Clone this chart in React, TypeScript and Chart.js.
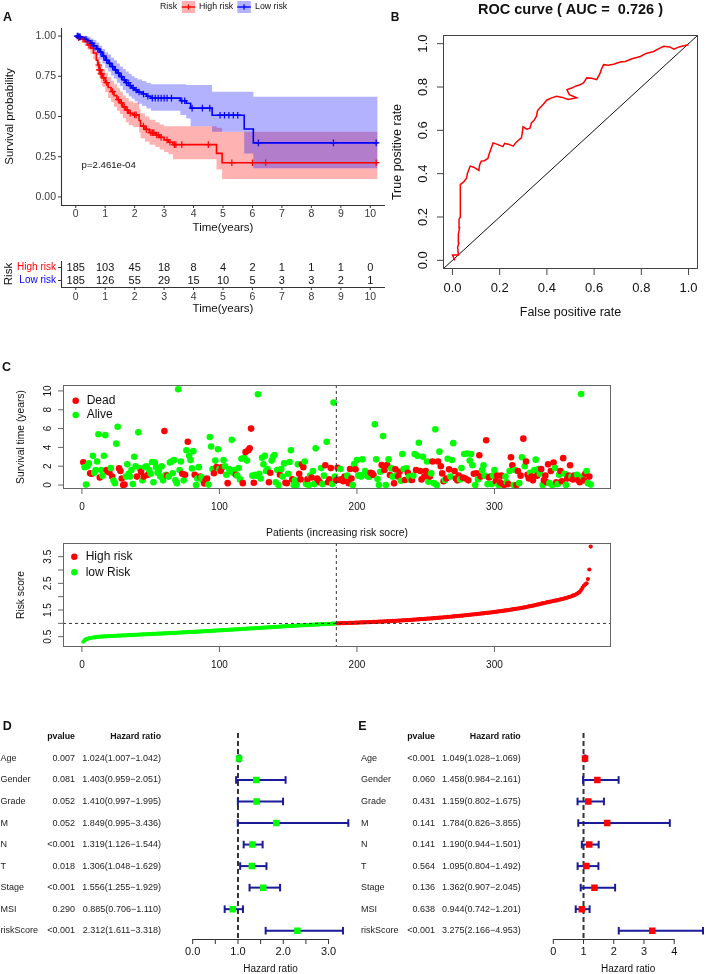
import React, { useEffect, useRef } from "react";
import { Chart, registerables } from "chart.js";

Chart.register(...registerables);

const FONT = '"Liberation Sans", Arial, Helvetica, sans-serif';
const RED = "#ff0000";
const BLUE = "#0000ff";
const GREEN = "#00ff00";
const DARKBLUE = "#1a1a9a";

// ---------------- Panel A : Kaplan-Meier ----------------
const TIME_TICKS = [0, 1, 2, 3, 4, 5, 6, 7, 8, 9, 10];
const SURV_TICKS = [0, 0.25, 0.5, 0.75, 1];
const SURV_TICK_LABELS = ["0.00", "0.25", "0.50", "0.75", "1.00"];

const HIGH_T = [0, 0.1, 0.2, 0.3, 0.4, 0.5, 0.6, 0.7, 0.75, 0.8, 0.85, 0.9, 1.0, 1.1, 1.2, 1.3, 1.4, 1.5, 1.6, 1.7, 1.8, 1.95, 2.15, 2.2, 2.35, 2.5, 2.7, 2.85, 3.0, 3.15, 3.3, 4.78, 4.97, 10.25];
const HIGH_S = [1, 0.99, 0.98, 0.965, 0.945, 0.925, 0.895, 0.85, 0.82, 0.79, 0.765, 0.74, 0.71, 0.68, 0.655, 0.63, 0.605, 0.585, 0.56, 0.54, 0.52, 0.51, 0.475, 0.44, 0.42, 0.4, 0.385, 0.37, 0.355, 0.34, 0.325, 0.271, 0.213, 0.213];
const HIGH_UP = [1, 1, 1, 0.99, 0.975, 0.96, 0.935, 0.895, 0.87, 0.84, 0.82, 0.795, 0.77, 0.745, 0.72, 0.7, 0.675, 0.655, 0.63, 0.615, 0.595, 0.585, 0.55, 0.52, 0.5, 0.48, 0.465, 0.45, 0.44, 0.44, 0.44, 0.43, 0.405, 0.405];
const HIGH_LO = [1, 0.975, 0.96, 0.94, 0.915, 0.89, 0.855, 0.805, 0.77, 0.74, 0.71, 0.685, 0.65, 0.615, 0.59, 0.56, 0.535, 0.515, 0.49, 0.465, 0.445, 0.435, 0.4, 0.365, 0.345, 0.325, 0.31, 0.295, 0.28, 0.265, 0.235, 0.17, 0.112, 0.112];

const LOW_T = [0, 0.1, 0.2, 0.3, 0.4, 0.5, 0.6, 0.7, 0.8, 0.9, 1.0, 1.1, 1.2, 1.3, 1.4, 1.5, 1.6, 1.7, 1.8, 1.9, 2.0, 2.1, 2.25, 2.4, 2.55, 3.55, 3.75, 3.9, 4.63, 5.72, 6.03, 10.25];
const LOW_S = [1, 0.995, 0.99, 0.98, 0.97, 0.955, 0.94, 0.92, 0.9, 0.875, 0.85, 0.83, 0.81, 0.79, 0.77, 0.748, 0.728, 0.71, 0.692, 0.678, 0.665, 0.652, 0.64, 0.626, 0.614, 0.598, 0.582, 0.552, 0.508, 0.422, 0.336, 0.336];
const LOW_UP = [1, 1, 1, 1, 0.995, 0.985, 0.975, 0.96, 0.94, 0.92, 0.9, 0.885, 0.865, 0.85, 0.83, 0.81, 0.795, 0.78, 0.765, 0.75, 0.74, 0.73, 0.72, 0.708, 0.7, 0.7, 0.696, 0.696, 0.654, 0.654, 0.623, 0.623];
const LOW_LO = [1, 0.985, 0.975, 0.96, 0.945, 0.925, 0.905, 0.88, 0.855, 0.83, 0.8, 0.78, 0.755, 0.735, 0.71, 0.69, 0.665, 0.645, 0.625, 0.61, 0.595, 0.58, 0.565, 0.55, 0.535, 0.51, 0.488, 0.44, 0.406, 0.27, 0.178, 0.178];

const HIGH_CENSOR = [0.1, 0.25, 0.45, 0.78, 0.8, 0.83, 0.86, 0.88, 0.95, 1.05, 1.25, 1.45, 1.55, 1.65, 1.75, 1.85, 2.0, 2.05, 2.3, 2.4, 2.55, 2.6, 2.65, 2.75, 2.8, 2.9, 3.1, 3.2, 3.35, 3.4, 3.6, 4.5, 5.3, 6.0, 6.45, 10.2];
const LOW_CENSOR = [0.05, 0.08, 0.12, 0.15, 0.35, 0.55, 0.62, 0.75, 0.85, 0.95, 1.05, 1.15, 1.25, 1.35, 1.45, 1.55, 1.65, 1.72, 1.78, 1.85, 1.95, 2.05, 2.15, 2.3, 2.45, 2.6, 2.7, 2.8, 2.9, 3.0, 3.1, 3.25, 3.6, 3.7, 3.95, 4.3, 4.55, 4.9, 5.05, 5.2, 5.35, 5.5, 6.2, 8.75, 10.2];

const RISK_GROUPS = ["High risk", "Low risk"];
const AT_RISK_HIGH = [185, 103, 45, 18, 8, 4, 2, 1, 1, 1, 0];
const AT_RISK_LOW = [185, 126, 55, 29, 15, 10, 5, 3, 3, 2, 1];
const P_VALUE_TEXT = "p=2.461e-04";

// ---------------- Panel B : ROC ----------------
const ROC_FPR = [0.01, 0.0, 0.025, 0.022, 0.027, 0.025, 0.03, 0.028, 0.033, 0.032, 0.035, 0.033, 0.04, 0.05, 0.06, 0.063, 0.075, 0.09, 0.112, 0.115, 0.122, 0.135, 0.15, 0.155, 0.165, 0.172, 0.19, 0.214, 0.221, 0.24, 0.257, 0.27, 0.292, 0.296, 0.299, 0.315, 0.328, 0.335, 0.345, 0.356, 0.36, 0.37, 0.385, 0.399, 0.42, 0.441, 0.465, 0.49, 0.526, 0.495, 0.485, 0.505, 0.519, 0.54, 0.555, 0.569, 0.59, 0.611, 0.626, 0.63, 0.64, 0.66, 0.682, 0.71, 0.732, 0.76, 0.796, 0.82, 0.852, 0.87, 0.895, 0.92, 0.938, 0.96, 0.98, 1.0];
const ROC_TPR = [0.0, 0.025, 0.025, 0.06, 0.08, 0.12, 0.15, 0.19, 0.2, 0.25, 0.3, 0.35, 0.355, 0.365, 0.38, 0.4, 0.435, 0.43, 0.415, 0.44, 0.458, 0.46, 0.47, 0.49, 0.52, 0.542, 0.535, 0.525, 0.54, 0.535, 0.527, 0.545, 0.565, 0.59, 0.616, 0.605, 0.61, 0.635, 0.645, 0.665, 0.69, 0.703, 0.72, 0.739, 0.75, 0.757, 0.752, 0.742, 0.75, 0.765, 0.788, 0.795, 0.803, 0.81, 0.819, 0.842, 0.84, 0.834, 0.865, 0.88, 0.903, 0.9, 0.905, 0.915, 0.918, 0.93, 0.941, 0.955, 0.964, 0.975, 0.988, 0.985, 0.975, 0.985, 0.99, 0.995];
const ROC_TICKS = [0, 0.2, 0.4, 0.6, 0.8, 1.0];
const ROC_TITLE = "ROC curve ( AUC =  0.726 )";

// ---------------- Panel C : risk plots ----------------
const SURV_TIME = [
  2.41, 1.9, 0.05, 2.0, 2.3, 1.25, 1.2, 3.1, 1.3, 1.6,
  2.5, 5.4, 0.8, 1.6, 1.0, 3.1, 5.3, 1.6, 1.4, 1.34,
  1.8, 0.9, 0.47, 0.2, 4.4, 6.2, 1.77, 1.5, 0.7, 0.0,
  0.05, 0.9, 2.2, 1.2, 0.9, 1.6, 0.1, 3.0, 2.0, 0.9,
  5.6, 1.77, 1.4, 0.5, 0.9, 1.9, 2.0, 1.1, 1.6, 1.2,
  2.45, 0.3, 2.4, 1.9, 1.3, 1.6, 0.9, 2.0, 0.5, 5.75,
  1.1, 1.0, 0.9, 2.4, 2.5, 1.25, 2.65, 0.5, 0.2, 10.18,
  1.6, 2.5, 1.2, 0.5, 1.1, 3.7, 4.6, 3.1, 2.65, 1.77,
  3.6, 1.1, 0.0, 0.7, 1.9, 0.9, 0.85, 0.5, 0.17, 0.5,
  0.7, 0.05, 5.1, 4.1, 1.7, 1.25, 2.6, 1.9, 3.8, 1.7,
  1.5, 1.9, 2.65, 2.0, 1.1, 0.2, 1.7, 1.5, 4.8, 1.3,
  1.6, 1.1, 1.0, 1.8, 0.6, 2.8, 0.2, 2.9, 3.5, 2.6,
  3.7, 3.9, 6.0, 1.0, 0.25, 1.1, 1.0, 9.65, 1.2, 0.7,
  2.9, 2.2, 3.1, 1.5, 1.7, 0.3, 1.3, 2.6, 3.0, 3.2,
  0.3, 1.6, 0.0, 1.1, 1.7, 0.9, 2.3, 0.25, 0.2, 1.2,
  2.45, 3.7, 0.6, 0.0, 0.5, 0.0, 2.2, 1.2, 0.6, 2.2,
  1.9, 2.5, 0.1, 0.6, 0.0, 1.0, 0.8, 1.5, 0.1, 3.9,
  0.7, 0.5, 0.3, 1.8, 0.1, 1.0, 2.1, 4.6, 0.3, 0.6,
  1.8, 0.1, 8.76, 0.9, 0.5,
  1.84, 0.55, 1.7, 0.6, 0.4, 0.9, 0.5, 1.0, 0.2, 1.7,
  0.7, 0.0, 2.24, 1.67, 2.66, 1.0, 1.07, 0.9, 2.73, 1.1,
  1.5, 1.24, 0.9, 0.89, 1.3, 1.24, 1.07, 6.45, 2.73, 0.64,
  0.0, 1.42, 2.13, 5.2, 1.6, 0.0, 2.13, 2.73, 1.07, 1.77,
  0.89, 0.18, 1.67, 1.0, 0.9, 1.42, 0.45, 3.3, 1.7, 0.53,
  1.77, 1.31, 0.9, 0.53, 0.53, 1.0, 3.3, 1.6, 3.1, 4.5,
  1.5, 0.6, 3.0, 0.9, 1.5, 2.5, 0.35, 0.9, 1.24, 2.5,
  0.2, 5.92, 0.0, 2.5, 3.55, 2.0, 1.24, 0.4, 0.53, 0.7,
  2.8, 1.67, 0.9, 2.66, 4.45, 1.5, 0.7, 0.5, 1.0, 0.6,
  1.8, 0.8, 3.3, 0.7, 3.35, 0.5, 2.6, 3.3, 2.1, 1.2,
  0.0, 1.25, 0.6, 3.16, 0.9, 1.6, 2.1, 1.0, 4.76, 0.1,
  0.8, 0.9, 0.1, 1.0, 1.6, 0.4, 1.0, 0.0, 0.3, 1.0,
  0.1, 0.0, 0.9, 0.3, 0.1, 1.5, 2.95, 2.1, 0.0, 1.6,
  0.0, 1.5, 0.2, 1.0, 2.95, 4.93, 2.0, 2.5, 1.1, 0.7,
  1.3, 0.9, 0.5, 1.6, 2.7, 1.0, 1.7, 1.2, 1.7, 0.0,
  0.5, 1.0, 0.3, 2.2, 0.2, 1.5, 0.0, 2.4, 1.8, 0.3,
  0.1, 1.1, 1.5, 0.4, 2.86, 1.2, 0.0, 0.7, 1.0, 2.1,
  0.9, 0.6, 1.0, 0.8, 1.1, 0.5, 0.3, 9.67, 0.9, 0.5,
  1.2, 1.5, 0.2, 0.9, 0.05,
];
// 1 = dead, 0 = alive
const STATUS = [
  1, 0, 0, 0, 0, 1, 1, 0, 0, 0,
  0, 0, 1, 0, 0, 0, 0, 1, 1, 1,
  0, 1, 0, 0, 0, 0, 1, 1, 1, 1,
  1, 0, 0, 0, 0, 0, 0, 0, 0, 1,
  0, 0, 1, 0, 1, 0, 0, 1, 0, 0,
  0, 0, 0, 0, 0, 0, 0, 0, 0, 1,
  0, 1, 0, 0, 0, 0, 0, 0, 0, 0,
  0, 0, 1, 0, 1, 0, 1, 0, 0, 0,
  0, 1, 0, 0, 0, 1, 0, 0, 1, 1,
  1, 0, 0, 0, 0, 1, 0, 1, 0, 0,
  1, 1, 0, 0, 0, 1, 0, 0, 0, 0,
  0, 1, 0, 0, 0, 0, 1, 0, 1, 0,
  1, 1, 1, 0, 1, 0, 0, 0, 0, 0,
  0, 0, 0, 0, 0, 1, 1, 0, 0, 0,
  0, 0, 0, 1, 0, 0, 0, 1, 1, 0,
  0, 0, 1, 0, 0, 0, 0, 1, 1, 1,
  1, 0, 0, 1, 0, 0, 1, 0, 0, 0,
  1, 1, 1, 0, 0, 0, 1, 0, 1, 1,
  1, 0, 0, 0, 1,
  1, 1, 0, 1, 1, 1, 1, 0, 1, 1,
  1, 0, 0, 1, 0, 0, 0, 0, 0, 0,
  0, 0, 0, 0, 1, 1, 1, 0, 0, 0,
  0, 0, 1, 0, 1, 0, 1, 0, 1, 0,
  0, 1, 1, 0, 1, 1, 0, 0, 0, 1,
  0, 1, 0, 0, 1, 0, 0, 1, 0, 0,
  1, 1, 0, 1, 1, 0, 0, 1, 0, 1,
  0, 0, 0, 1, 0, 1, 1, 1, 0, 1,
  0, 1, 0, 0, 0, 1, 1, 1, 1, 0,
  0, 1, 0, 1, 0, 1, 0, 0, 0, 1,
  0, 1, 0, 1, 1, 0, 0, 0, 1, 0,
  1, 1, 0, 0, 0, 1, 1, 0, 1, 1,
  1, 1, 0, 0, 1, 0, 1, 1, 0, 0,
  1, 1, 0, 1, 0, 1, 0, 1, 1, 1,
  0, 1, 1, 0, 0, 1, 0, 0, 1, 0,
  1, 1, 1, 1, 0, 1, 0, 1, 0, 1,
  0, 0, 1, 1, 1, 0, 0, 1, 1, 1,
  0, 1, 1, 1, 0, 1, 1, 0, 0, 1,
  1, 0, 0, 1, 0,
];
const RISK_SCORE = [
  0.31, 0.37, 0.40, 0.42, 0.44, 0.45, 0.46, 0.47, 0.475, 0.48,
  0.49, 0.495, 0.50, 0.503, 0.507, 0.51, 0.513, 0.515, 0.519, 0.522,
  0.525, 0.527, 0.53, 0.532, 0.535, 0.537, 0.539, 0.542, 0.545, 0.547,
  0.55, 0.553, 0.555, 0.558, 0.561, 0.563, 0.566, 0.568, 0.571, 0.574,
  0.577, 0.579, 0.582, 0.584, 0.587, 0.59, 0.592, 0.595, 0.597, 0.6,
  0.603, 0.605, 0.608, 0.61, 0.612, 0.615, 0.618, 0.62, 0.623, 0.626,
  0.628, 0.631, 0.633, 0.636, 0.638, 0.641, 0.644, 0.646, 0.649, 0.652,
  0.655, 0.657, 0.66, 0.662, 0.665, 0.668, 0.671, 0.673, 0.676, 0.679,
  0.682, 0.684, 0.687, 0.69, 0.693, 0.696, 0.699, 0.701, 0.704, 0.707,
  0.71, 0.713, 0.716, 0.719, 0.722, 0.726, 0.729, 0.732, 0.735, 0.738,
  0.741, 0.744, 0.747, 0.75, 0.753, 0.756, 0.759, 0.763, 0.766, 0.769,
  0.772, 0.775, 0.778, 0.782, 0.785, 0.788, 0.791, 0.794, 0.797, 0.801,
  0.804, 0.807, 0.81, 0.813, 0.816, 0.82, 0.823, 0.826, 0.829, 0.833,
  0.836, 0.839, 0.842, 0.846, 0.849, 0.852, 0.855, 0.858, 0.862, 0.865,
  0.868, 0.871, 0.874, 0.878, 0.881, 0.884, 0.887, 0.89, 0.893, 0.896,
  0.899, 0.902, 0.905, 0.908, 0.911, 0.914, 0.917, 0.92, 0.923, 0.926,
  0.929, 0.932, 0.935, 0.938, 0.941, 0.944, 0.947, 0.95, 0.953, 0.956,
  0.959, 0.961, 0.964, 0.967, 0.969, 0.972, 0.975, 0.977, 0.98, 0.982,
  0.985, 0.987, 0.99, 0.992, 0.995,
  1.0, 1.002, 1.004, 1.006, 1.008, 1.01, 1.012, 1.014, 1.016, 1.018,
  1.02, 1.022, 1.024, 1.026, 1.028, 1.03, 1.032, 1.034, 1.036, 1.038,
  1.04, 1.042, 1.044, 1.046, 1.049, 1.051, 1.053, 1.056, 1.058, 1.061,
  1.063, 1.066, 1.068, 1.071, 1.073, 1.076, 1.079, 1.081, 1.084, 1.087,
  1.09, 1.093, 1.096, 1.099, 1.102, 1.105, 1.108, 1.111, 1.114, 1.117,
  1.12, 1.124, 1.127, 1.131, 1.134, 1.138, 1.141, 1.145, 1.148, 1.152,
  1.156, 1.16, 1.163, 1.167, 1.171, 1.175, 1.179, 1.183, 1.187, 1.191,
  1.195, 1.199, 1.204, 1.208, 1.212, 1.217, 1.221, 1.226, 1.23, 1.235,
  1.24, 1.245, 1.249, 1.254, 1.259, 1.264, 1.269, 1.274, 1.279, 1.284,
  1.289, 1.294, 1.3, 1.305, 1.31, 1.316, 1.321, 1.327, 1.332, 1.338,
  1.343, 1.349, 1.355, 1.36, 1.366, 1.372, 1.378, 1.384, 1.39, 1.396,
  1.402, 1.408, 1.415, 1.421, 1.428, 1.434, 1.441, 1.448, 1.455, 1.462,
  1.469, 1.476, 1.484, 1.491, 1.499, 1.507, 1.515, 1.523, 1.531, 1.54,
  1.548, 1.557, 1.566, 1.575, 1.584, 1.594, 1.603, 1.613, 1.623, 1.634,
  1.644, 1.655, 1.666, 1.677, 1.689, 1.7, 1.712, 1.724, 1.737, 1.75,
  1.762, 1.774, 1.785, 1.796, 1.807, 1.818, 1.829, 1.84, 1.851, 1.862,
  1.874, 1.886, 1.898, 1.91, 1.923, 1.937, 1.951, 1.966, 1.982, 1.999,
  2.018, 2.037, 2.058, 2.081, 2.108, 2.14, 2.18, 2.25, 2.33, 2.41,
  2.46, 2.5, 2.66, 3.02, 3.88,
];
const LOW_COUNT = 185;
const RISK_CUTOFF = 0.998;
const PATIENT_TICKS = [0, 100, 200, 300];
const TIME_Y_TICKS = [0, 2, 4, 6, 8, 10];
const RISK_Y_TICKS = [0.5, 1, 1.5, 2, 2.5, 3, 3.5];
const RISK_Y_LABELS = [0.5, 1.5, 2.5, 3.5];

// ---------------- Panels D / E : forest plots ----------------
const VARS = ["Age", "Gender", "Grade", "M", "N", "T", "Stage", "MSI", "riskScore"];
const UNI_P = ["0.007", "0.081", "0.052", "0.052", "<0.001", "0.018", "<0.001", "0.290", "<0.001"];
const UNI_HR = [1.024, 1.403, 1.41, 1.849, 1.319, 1.306, 1.556, 0.885, 2.312];
const UNI_LO = [1.007, 0.959, 0.997, 0.995, 1.126, 1.048, 1.255, 0.706, 1.611];
const UNI_HI = [1.042, 2.051, 1.995, 3.436, 1.544, 1.629, 1.929, 1.11, 3.318];
const MULTI_P = ["<0.001", "0.060", "0.431", "0.141", "0.141", "0.564", "0.136", "0.638", "<0.001"];
const MULTI_HR = [1.049, 1.458, 1.159, 1.784, 1.19, 1.095, 1.362, 0.944, 3.275];
const MULTI_LO = [1.028, 0.984, 0.802, 0.826, 0.944, 0.804, 0.907, 0.742, 2.166];
const MULTI_HI = [1.069, 2.161, 1.675, 3.855, 1.501, 1.492, 2.045, 1.201, 4.953];
const UNI_TICKS = [0, 0.5, 1, 1.5, 2, 2.5, 3];
const UNI_TICK_LABELS: Record<string, string> = { "0": "0.0", "1": "1.0", "2": "2.0", "3": "3.0" };
const MULTI_TICKS = [0, 1, 2, 3, 4];
const MULTI_TICK_LABELS: Record<string, string> = { "0": "0", "1": "1", "2": "2", "3": "3", "4": "4" };

// ---------------- helpers ----------------
type TxtOpt = { size?: number; color?: string; align?: CanvasTextAlign; baseline?: CanvasTextBaseline; bold?: boolean; rot?: number };
function txt(ctx: CanvasRenderingContext2D, s: string, x: number, y: number, o: TxtOpt = {}) {
  ctx.save();
  ctx.font = `${o.bold ? "bold " : ""}${o.size ?? 10}px ${FONT}`;
  ctx.fillStyle = o.color ?? "#111";
  ctx.textAlign = o.align ?? "center";
  ctx.textBaseline = o.baseline ?? "middle";
  ctx.translate(x, y);
  if (o.rot) ctx.rotate(o.rot);
  ctx.fillText(s, 0, 0);
  ctx.restore();
}
function seg(ctx: CanvasRenderingContext2D, x1: number, y1: number, x2: number, y2: number, color = "#000", w = 1, dash: number[] = []) {
  ctx.save();
  ctx.beginPath();
  ctx.strokeStyle = color;
  ctx.lineWidth = w;
  ctx.setLineDash(dash);
  ctx.moveTo(x1, y1);
  ctx.lineTo(x2, y2);
  ctx.stroke();
  ctx.restore();
}
function dot(ctx: CanvasRenderingContext2D, x: number, y: number, r: number, color: string) {
  ctx.save();
  ctx.beginPath();
  ctx.fillStyle = color;
  ctx.arc(x, y, r, 0, Math.PI * 2);
  ctx.fill();
  ctx.restore();
}
function box(ctx: CanvasRenderingContext2D, a: any, color: string) {
  ctx.save();
  ctx.strokeStyle = color;
  ctx.lineWidth = 1;
  ctx.strokeRect(Math.round(a.left) + 0.5, Math.round(a.top) + 0.5, Math.round(a.right - a.left) - 1, Math.round(a.bottom - a.top) - 1);
  ctx.restore();
}
function survAt(T: number[], S: number[], t: number) {
  let s = S[0];
  for (let i = 0; i < T.length; i++) if (T[i] <= t) s = S[i];
  return s;
}
function baseOptions(padding: any, xr: number[], yr: number[], yReverse = false): any {
  return {
    responsive: false,
    maintainAspectRatio: false,
    animation: false,
    devicePixelRatio: 1,
    events: [],
    layout: { padding },
    plugins: { legend: { display: false }, tooltip: { enabled: false }, title: { display: false } },
    scales: {
      x: { type: "linear", min: xr[0], max: xr[1], display: false },
      y: { type: "linear", min: yr[0], max: yr[1], display: false, reverse: yReverse },
    },
  };
}

function ChartCanvas({ left, top, width, height, config }: { left: number; top: number; width: number; height: number; config: () => any }) {
  const ref = useRef<HTMLCanvasElement>(null);
  useEffect(() => {
    if (!ref.current) return;
    const chart = new Chart(ref.current, config());
    return () => chart.destroy();
  }, []);
  return (
    <canvas
      ref={ref}
      width={width}
      height={height}
      style={{ position: "absolute", left, top, width, height, display: "block" }}
    />
  );
}

// ---------------- chart configs ----------------
function kmConfig() {
  const pts = (T: number[], V: number[]) => T.map((t, i) => ({ x: t, y: V[i] }));
  const band = (T: number[], U: number[], L: number[], color: string, order: number) => [
    { data: pts(T, U), stepped: true, borderColor: "rgba(0,0,0,0)", borderWidth: 1, pointRadius: 0, fill: "+1", backgroundColor: color, order },
    { data: pts(T, L), stepped: true, borderColor: "rgba(0,0,0,0)", borderWidth: 1, pointRadius: 0, fill: false, order },
  ];
  const censor = (C: number[], T: number[], S: number[], color: string, order: number) => ({
    data: C.map((t) => ({ x: t, y: survAt(T, S, t) })),
    showLine: false,
    pointStyle: "cross",
    pointRadius: 3.3,
    pointBorderColor: color,
    pointBorderWidth: 1.2,
    borderColor: color,
    order,
  });
  const datasets = [
    ...band(HIGH_T, HIGH_UP, HIGH_LO, "rgba(255,0,0,0.3)", 10),
    ...band(LOW_T, LOW_UP, LOW_LO, "rgba(0,0,255,0.3)", 9),
    { data: pts(HIGH_T, HIGH_S), stepped: true, borderColor: RED, borderWidth: 1.6, pointRadius: 0, fill: false, order: 4 },
    { data: pts(LOW_T, LOW_S), stepped: true, borderColor: BLUE, borderWidth: 1.6, pointRadius: 0, fill: false, order: 3 },
    censor(HIGH_CENSOR, HIGH_T, HIGH_S, RED, 2),
    censor(LOW_CENSOR, LOW_T, LOW_S, BLUE, 1),
  ];
  return {
    type: "line",
    data: { datasets },
    options: baseOptions({ left: 61, right: 15, top: 28, bottom: 35 }, [-0.5, 10.5], [-0.05, 1.05]),
    plugins: [
      {
        id: "kmDeco",
        afterDraw(chart: any) {
          const ctx = chart.ctx, a = chart.chartArea, xs = chart.scales.x, ys = chart.scales.y;
          const AX = "#333";
          seg(ctx, a.left + 0.5, a.top, a.left + 0.5, a.bottom + 0.5, AX, 1.1);
          seg(ctx, a.left, a.bottom + 0.5, a.right, a.bottom + 0.5, AX, 1.1);
          SURV_TICKS.forEach((v, i) => {
            const y = ys.getPixelForValue(v);
            seg(ctx, a.left - 3, y, a.left, y, AX, 1);
            txt(ctx, SURV_TICK_LABELS[i], a.left - 5, y, { size: 10.5, align: "right", color: "#3a3a3a" });
          });
          TIME_TICKS.forEach((t) => {
            const x = xs.getPixelForValue(t);
            seg(ctx, x, a.bottom, x, a.bottom + 3, AX, 1);
            txt(ctx, String(t), x, a.bottom + 9, { size: 10.5, color: "#3a3a3a" });
          });
          txt(ctx, "Time(years)", (a.left + a.right) / 2, 227.5, { size: 11.5 });
          txt(ctx, "Survival probability", 10, (a.top + a.bottom) / 2, { size: 11.5, rot: -Math.PI / 2 });
          txt(ctx, P_VALUE_TEXT, xs.getPixelForValue(0.2), ys.getPixelForValue(0.195), { size: 9.6, align: "left" });
          // legend
          txt(ctx, "Risk", 160, 7, { size: 8.8, align: "left" });
          const key = (x0: number, color: string, fillc: string) => {
            ctx.save();
            ctx.fillStyle = fillc;
            ctx.fillRect(x0, 1, 13.5, 12);
            ctx.restore();
            seg(ctx, x0, 7, x0 + 13.5, 7, color, 1.4);
            seg(ctx, x0 + 6.75, 4.3, x0 + 6.75, 9.7, color, 1.2);
          };
          key(181.7, RED, "rgba(255,0,0,0.3)");
          txt(ctx, "High risk", 199, 7, { size: 8.8, align: "left" });
          key(237.3, BLUE, "rgba(0,0,255,0.3)");
          txt(ctx, "Low risk", 255, 7, { size: 8.8, align: "left" });
          txt(ctx, "A", 3, 18, { size: 12.5, bold: true, align: "left" });
        },
      },
    ],
  };
}

function tableConfig() {
  return {
    type: "line",
    data: { datasets: [] },
    options: baseOptions({ left: 61, right: 15, top: 21, bottom: 33 }, [-0.5, 10.5], [0, 2], true),
    plugins: [
      {
        id: "tableDeco",
        afterDraw(chart: any) {
          const ctx = chart.ctx, a = chart.chartArea, xs = chart.scales.x, ys = chart.scales.y;
          const AX = "#333";
          seg(ctx, a.left + 0.5, a.top, a.left + 0.5, a.bottom + 0.5, AX, 1.1);
          seg(ctx, a.left, a.bottom + 0.5, a.right, a.bottom + 0.5, AX, 1.1);
          const rows = [AT_RISK_HIGH, AT_RISK_LOW];
          const colors = [RED, BLUE];
          rows.forEach((vals, r) => {
            const y = ys.getPixelForValue(r + 0.5);
            seg(ctx, a.left - 3, y, a.left, y, AX, 1);
            txt(ctx, RISK_GROUPS[r], a.left - 5, y, { size: 10, align: "right", color: colors[r] });
            vals.forEach((v, i) => txt(ctx, String(v), xs.getPixelForValue(TIME_TICKS[i]), y, { size: 11, color: "#111" }));
          });
          TIME_TICKS.forEach((t) => {
            const x = xs.getPixelForValue(t);
            seg(ctx, x, a.bottom, x, a.bottom + 3, AX, 1);
            txt(ctx, String(t), x, a.bottom + 9.7, { size: 10.5, color: "#3a3a3a" });
          });
          txt(ctx, "Time(years)", (a.left + a.right) / 2, 69, { size: 11.5 });
          txt(ctx, "Risk", 8.5, (a.top + a.bottom) / 2, { size: 11.5, rot: -Math.PI / 2 });
        },
      },
    ],
  };
}

function rocConfig() {
  return {
    type: "line",
    data: {
      datasets: [
        { data: [{ x: -0.04, y: -0.04 }, { x: 1.04, y: 1.04 }], borderColor: "#111", borderWidth: 1, pointRadius: 0, fill: false, order: 2 },
        { data: ROC_FPR.map((f, i) => ({ x: f, y: ROC_TPR[i] })), borderColor: RED, borderWidth: 1.5, pointRadius: 0, fill: false, order: 1 },
      ],
    },
    options: baseOptions({ left: 63, right: 11, top: 35, bottom: 61 }, [-0.04, 1.04], [-0.04, 1.04]),
    plugins: [
      {
        id: "rocDeco",
        afterDraw(chart: any) {
          const ctx = chart.ctx, a = chart.chartArea, xs = chart.scales.x, ys = chart.scales.y;
          box(ctx, a, "#444");
          ROC_TICKS.forEach((v) => {
            const x = xs.getPixelForValue(v);
            seg(ctx, x, a.bottom, x, a.bottom + 6, "#444", 1);
            txt(ctx, v.toFixed(1), x, 288, { size: 13 });
            const y = ys.getPixelForValue(v);
            seg(ctx, a.left - 6, y, a.left, y, "#444", 1);
            txt(ctx, v.toFixed(1), 43, y, { size: 13, rot: -Math.PI / 2 });
          });
          txt(ctx, "False positive rate", (a.left + a.right) / 2, 313, { size: 12.5 });
          txt(ctx, "True positive rate", 18, (a.top + a.bottom) / 2, { size: 12.5, rot: -Math.PI / 2 });
          txt(ctx, ROC_TITLE, (a.left + a.right) / 2, 10, { size: 14.5, bold: true });
          txt(ctx, "B", 10.7, 18, { size: 12, bold: true, align: "left" });
        },
      },
    ],
  };
}

function survScatterConfig() {
  return {
    type: "scatter",
    data: {
      datasets: [
        {
          data: SURV_TIME.map((t, i) => ({ x: i + 1, y: t })),
          pointBackgroundColor: STATUS.map((s) => (s === 1 ? RED : GREEN)),
          pointBorderWidth: 0,
          pointRadius: 3.3,
        },
      ],
    },
    options: baseOptions({ left: 63, right: 9, top: 55, bottom: 31 }, [-13.76, 384.76], [-0.42, 10.63]),
    plugins: [
      {
        id: "survDeco",
        afterDraw(chart: any) {
          const ctx = chart.ctx, a = chart.chartArea, xs = chart.scales.x, ys = chart.scales.y;
          const x0 = xs.getPixelForValue(LOW_COUNT);
          seg(ctx, x0, a.top, x0, a.bottom, "#333", 1, [3, 3]);
          box(ctx, a, "#666");
          PATIENT_TICKS.forEach((v) => {
            const x = xs.getPixelForValue(v);
            seg(ctx, x, a.bottom, x, a.bottom + 5, "#666", 1);
            txt(ctx, String(v), x, 177.5, { size: 10 });
          });
          TIME_Y_TICKS.forEach((v) => {
            const y = ys.getPixelForValue(v);
            seg(ctx, a.left - 5, y, a.left, y, "#666", 1);
            txt(ctx, String(v), 48, y, { size: 10, rot: -Math.PI / 2 });
          });
          txt(ctx, "Survival time (years)", 21, (a.top + a.bottom) / 2, { size: 10.3, rot: -Math.PI / 2 });
          dot(ctx, 75.7, 70.7, 3.3, RED);
          txt(ctx, "Dead", 86.7, 70.7, { size: 12, align: "left" });
          dot(ctx, 75.7, 85, 3.3, GREEN);
          txt(ctx, "Alive", 86.7, 85, { size: 12, align: "left" });
          txt(ctx, "C", 2, 38, { size: 12.5, bold: true, align: "left" });
        },
      },
    ],
  };
}

function riskScatterConfig() {
  return {
    type: "scatter",
    data: {
      datasets: [
        {
          data: RISK_SCORE.map((r, i) => ({ x: i + 1, y: r })),
          pointBackgroundColor: RISK_SCORE.map((_, i) => (i < LOW_COUNT ? GREEN : RED)),
          pointBorderWidth: 0,
          pointRadius: 2.1,
        },
      ],
    },
    options: baseOptions({ left: 63, right: 9, top: 23, bottom: 33 }, [-13.76, 384.76], [0.114, 4.014]),
    plugins: [
      {
        id: "riskDeco",
        afterDraw(chart: any) {
          const ctx = chart.ctx, a = chart.chartArea, xs = chart.scales.x, ys = chart.scales.y;
          const x0 = xs.getPixelForValue(LOW_COUNT);
          const y0 = ys.getPixelForValue(RISK_CUTOFF);
          seg(ctx, x0, a.top, x0, a.bottom, "#333", 1, [3, 3]);
          seg(ctx, a.left, y0, a.right, y0, "#333", 1, [3, 3]);
          box(ctx, a, "#666");
          PATIENT_TICKS.forEach((v) => {
            const x = xs.getPixelForValue(v);
            seg(ctx, x, a.bottom, x, a.bottom + 5, "#666", 1);
            txt(ctx, String(v), x, 145, { size: 10 });
          });
          RISK_Y_TICKS.forEach((v) => {
            const y = ys.getPixelForValue(v);
            seg(ctx, a.left - 5, y, a.left, y, "#666", 1);
            if (RISK_Y_LABELS.includes(v)) txt(ctx, v.toFixed(1), 48, y, { size: 10, rot: -Math.PI / 2 });
          });
          txt(ctx, "Risk score", 21, (a.top + a.bottom) / 2, { size: 10.3, rot: -Math.PI / 2 });
          txt(ctx, "Patients (increasing risk socre)", (a.left + a.right) / 2, 13.3, { size: 10.4 });
          dot(ctx, 74.3, 36.7, 3.2, RED);
          txt(ctx, "High risk", 85.7, 36.7, { size: 12, align: "left" });
          dot(ctx, 74.3, 52.3, 3.2, GREEN);
          txt(ctx, "low Risk", 85.7, 52.3, { size: 12, align: "left" });
        },
      },
    ],
  };
}

function forestConfig(
  P: string[], HR: number[], LO: number[], HI: number[], boxColor: string, xMax: number,
  ticks: number[], tickLabels: Record<string, string>, padLeft: number, padRight: number,
  tx: { label: number; pRight: number; hrRight: number; letterX: number }, letter: string
) {
  const f3 = (v: number) => v.toFixed(3);
  const ciSets = VARS.map((_, i) => ({
    data: [{ x: LO[i], y: i }, { x: HI[i], y: i }],
    borderColor: DARKBLUE,
    borderWidth: 2,
    pointStyle: "line",
    pointRotation: 90,
    pointRadius: 3.8,
    pointBorderColor: DARKBLUE,
    pointBorderWidth: 2,
    fill: false,
    clip: false,
    order: 2,
  }));
  const squares = {
    data: HR.map((v, i) => ({ x: v, y: i })),
    showLine: false,
    pointStyle: "rect",
    pointRadius: 4.6,
    pointBackgroundColor: boxColor,
    pointBorderWidth: 0,
    order: 1,
  };
  return {
    type: "line",
    data: { datasets: [...ciSets, squares] },
    options: baseOptions({ left: padLeft, right: padRight, top: 33, bottom: 35 }, [0, xMax], [-1.18, 8.385], true),
    plugins: [
      {
        id: "forestDeco",
        beforeDatasetsDraw(chart: any) {
          const ctx = chart.ctx, a = chart.chartArea, xs = chart.scales.x;
          const x1 = xs.getPixelForValue(1);
          seg(ctx, x1, a.top, x1, a.bottom, "#333", 2, [5, 3]);
        },
        afterDraw(chart: any) {
          const ctx = chart.ctx, a = chart.chartArea, xs = chart.scales.x, ys = chart.scales.y;
          const xa = xs.getPixelForValue(ticks[0]);
          const xb = xs.getPixelForValue(ticks[ticks.length - 1]);
          seg(ctx, xa, a.bottom + 0.5, xb, a.bottom + 0.5, "#333", 1);
          ticks.forEach((t) => {
            const x = xs.getPixelForValue(t);
            seg(ctx, x, a.bottom, x, a.bottom + 5, "#333", 1);
            const lab = tickLabels[String(t)];
            if (lab) txt(ctx, lab, x, a.bottom + 12.7, { size: 11 });
          });
          txt(ctx, "Hazard ratio", (a.left + a.right) / 2, a.bottom + 30, { size: 10 });
          const yh = ys.getPixelForValue(-1);
          txt(ctx, "pvalue", tx.pRight, yh, { size: 8.8, bold: true, align: "right" });
          txt(ctx, "Hazard ratio", tx.hrRight, yh, { size: 8.8, bold: true, align: "right" });
          VARS.forEach((v, i) => {
            const y = ys.getPixelForValue(i);
            txt(ctx, v, tx.label, y, { size: 9, align: "left", color: "#222" });
            txt(ctx, P[i], tx.pRight, y, { size: 9, align: "right", color: "#222" });
            txt(ctx, `${f3(HR[i])}(${f3(LO[i])}\u2212${f3(HI[i])})`, tx.hrRight, y, { size: 9, align: "right", color: "#222" });
          });
          txt(ctx, letter, tx.letterX, 26.7, { size: 12.5, bold: true, align: "left" });
        },
      },
    ],
  };
}

export default function App() {
  return (
    <div style={{ position: "absolute", left: 0, top: 0, width: 709, height: 974, background: "#fff", overflow: "hidden" }}>
      <ChartCanvas left={0} top={0} width={400} height={240} config={kmConfig} />
      <ChartCanvas left={0} top={240} width={400} height={80} config={tableConfig} />
      <ChartCanvas left={380} top={0} width={329} height={330} config={rocConfig} />
      <ChartCanvas left={0} top={330} width={620} height={190} config={survScatterConfig} />
      <ChartCanvas left={0} top={520} width={620} height={160} config={riskScatterConfig} />
      <ChartCanvas
        left={0}
        top={700}
        width={355}
        height={274}
        config={() =>
          forestConfig(UNI_P, UNI_HR, UNI_LO, UNI_HI, GREEN, 3.436, UNI_TICKS, UNI_TICK_LABELS, 192.7, 6.7,
            { label: 0.5, pRight: 75, hrRight: 161, letterX: 2.7 }, "D")
        }
      />
      <ChartCanvas
        left={355}
        top={700}
        width={354}
        height={274}
        config={() =>
          forestConfig(MULTI_P, MULTI_HR, MULTI_LO, MULTI_HI, RED, 4.953, MULTI_TICKS, MULTI_TICK_LABELS, 198.3, 0.9,
            { label: 6, pRight: 80, hrRight: 165.7, letterX: 3.3 }, "E")
        }
      />
    </div>
  );
}
